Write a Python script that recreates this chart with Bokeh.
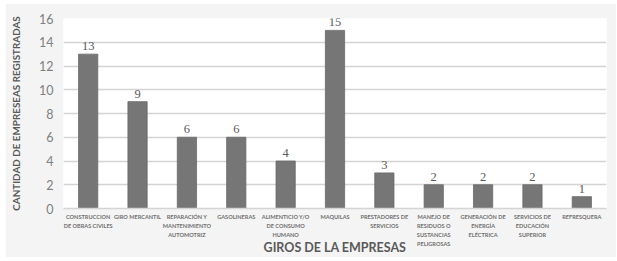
from bokeh.plotting import figure
from bokeh.models import FactorRange, Range1d, ColumnDataSource, SingleIntervalTicker, LabelSet
from bokeh.embed import file_html
from bokeh.resources import INLINE

categories = [
    "CONSTRUCCION\nDE OBRAS CIVILES",
    "GIRO MERCANTIL",
    "REPARACIÓN Y\nMANTENIMIENTO\nAUTOMOTRIZ",
    "GASOLINERAS",
    "ALIMENTICIO Y/O\nDE CONSUMO\nHUMANO",
    "MAQUILAS",
    "PRESTADORES DE\nSERVICIOS",
    "MANEJO DE\nRESIDUOS O\nSUSTANCIAS\nPELIGROSAS",
    "GENERACIÓN DE\nENERGÍA\nELÉCTRICA",
    "SERVICIOS DE\nEDUCACIÓN\nSUPERIOR",
    "REFRESQUERA",
]
values = [13, 9, 6, 6, 4, 15, 3, 2, 2, 2, 1]
y_title = "CANTIDAD DE EMPRESEAS REGISTRADAS"
x_title = "GIROS DE LA EMPRESAS"

src = ColumnDataSource(dict(cat=categories, val=values, lab=[str(v) for v in values]))

p = figure(width=611, height=254, x_range=FactorRange(*categories), y_range=Range1d(0, 16),
           output_backend="svg", toolbar_location=None,
           min_border_left=58, min_border_right=10, min_border_top=15, min_border_bottom=48)
p.margin = (3, 1, 4, 5)
p.background_fill_color = "white"
p.border_fill_color = "#f4f4f4"
p.outline_line_color = None

p.vbar(x="cat", top="val", width=0.39, source=src, fill_color="#767676", line_color="#6a6a6a", line_width=0.8)

labels = LabelSet(x="cat", y="val", text="lab", source=src, text_align="center", text_baseline="bottom",
                  y_offset=4, text_font_size="12.5px", text_color="#595959", text_font="Lato")
p.add_layout(labels)

p.x_range.range_padding = 0
p.yaxis.ticker = SingleIntervalTicker(interval=2)
p.xgrid.grid_line_color = None
p.ygrid.grid_line_color = "#d4d4d4"
p.ygrid.grid_line_width = 1.6

for ax in (p.xaxis, p.yaxis):
    ax.major_tick_line_color = None
    ax.minor_tick_line_color = None
    ax.major_tick_out = 0
    ax.major_tick_in = 0
    ax.minor_tick_out = 0
    ax.minor_tick_in = 0

p.yaxis.axis_line_color = None
p.xaxis.axis_line_color = "#d4d4d4"
p.xaxis.axis_line_width = 1.6

p.yaxis.major_label_text_font = "Lato"
p.yaxis.major_label_text_font_size = "12.5px"
p.yaxis.major_label_text_color = "#7f7f7f"
p.yaxis.major_label_standoff = 10

p.xaxis.major_label_text_font = "Lato"
p.xaxis.major_label_text_font_size = "5.6px"
p.xaxis.major_label_text_font_style = "bold"
p.xaxis.major_label_text_color = "#6f6f6f"
p.xaxis.major_label_standoff = 4
p.xaxis.major_label_text_line_height = 1.3

p.yaxis.axis_label = y_title
p.yaxis.axis_label_text_font = "Lato"
p.yaxis.axis_label_text_font_size = "9.9px"
p.yaxis.axis_label_text_font_style = "bold"
p.yaxis.axis_label_text_color = "#595959"
p.yaxis.axis_label_standoff = 14

p.xaxis.axis_label = x_title
p.xaxis.axis_label_text_font = "Lato"
p.xaxis.axis_label_text_font_size = "12.5px"
p.xaxis.axis_label_text_font_style = "bold"
p.xaxis.axis_label_text_color = "#595959"
p.xaxis.axis_label_standoff = -10

open("out.html", "w").write(file_html(p, INLINE))
